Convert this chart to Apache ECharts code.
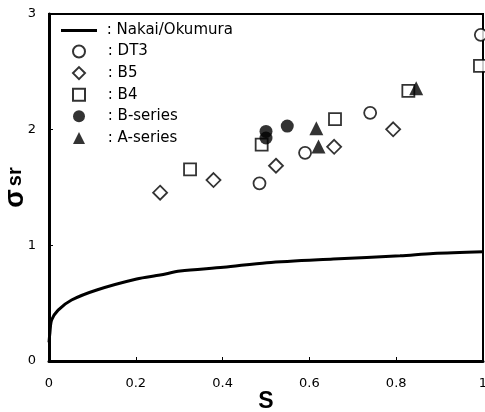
<!DOCTYPE html>
<html><head><meta charset="utf-8">
<script src="https://cdn.jsdelivr.net/npm/echarts@6/dist/echarts.min.js"></script>
<style>html,body{margin:0;padding:0;background:#fff}#c{width:485px;height:412px}</style>
</head><body><div id="c"></div>
<script>
const xTicks = [0, 0.2, 0.4, 0.6, 0.8, 1];
const yTicks = [0, 1, 2, 3];
const nakaiS = [0, 0.002, 0.006, 0.021, 0.052, 0.11, 0.202, 0.256, 0.302, 0.402, 0.502, 0.655, 0.809, 0.885, 1.0];
const nakaiV = [0.16, 0.24, 0.354, 0.44, 0.527, 0.614, 0.709, 0.743, 0.778, 0.81, 0.85, 0.882, 0.91, 0.93, 0.945];
const dt3S = [0.485, 0.590, 0.740, 0.995];
const dt3V = [1.536, 1.80, 2.146, 2.82];
const b5S = [0.256, 0.379, 0.523, 0.657, 0.793];
const b5V = [1.455, 1.564, 1.688, 1.852, 2.003];
const b4S = [0.325, 0.490, 0.659, 0.828, 0.993];
const b4V = [1.657, 1.870, 2.092, 2.336, 2.552];
const bSerS = [0.50, 0.50, 0.549];
const bSerV = [1.985, 1.928, 2.031];
const aSerS = [0.616, 0.621, 0.846];
const aSerV = [2.012, 1.855, 2.357];

const zip = (a, b) => a.map((v, i) => [v, b[i]]);
const hollow = {color: '#fff', borderColor: '#000', borderWidth: 1.8};
const filled = {color: '#000', borderColor: '#000', borderWidth: 0};
const font = 'Liberation Sans, Arial, sans-serif';
const wide = 'DejaVu Sans, sans-serif';
const legendText = {color: '#000', fontSize: 15, lineHeight: 14, fontFamily: wide};

const chart = echarts.init(document.getElementById('c'));
chart.setOption({
  animation: false,
  backgroundColor: '#fff',
  grid: {left: 49, top: 14, right: 2, bottom: 51, show: true, borderColor: '#000', borderWidth: 2,
         containLabel: false, outerBoundsMode: 'none'},
  legend: [
    {
      orient: 'vertical', left: 61, top: 23, padding: 0, itemWidth: 36, itemHeight: 3,
      icon: 'rect', formatter: n => ' : ' + n,
      textStyle: legendText,
      data: [{name: 'Nakai/Okumura', icon: 'rect', itemStyle: {color: '#000'}}]
    },
    {
      orient: 'vertical', left: 72, top: 44, padding: 0, itemWidth: 12, itemHeight: 12, itemGap: 6.6,
      formatter: n => ' : ' + n,
      textStyle: Object.assign({padding: [0, 0, 0, 13]}, legendText),
      data: ['DT3', 'B5', 'B4', 'B-series', 'A-series']
    }
  ],
  xAxis: {
    type: 'value', min: xTicks[0], max: xTicks[xTicks.length - 1], interval: 0.2,
    name: 'S', nameLocation: 'middle', nameGap: 29, nameMoveOverlap: false,
    nameTextStyle: {color: '#000', fontSize: 23, fontWeight: 'bold', fontFamily: font},
    axisLine: {lineStyle: {color: '#000', width: 3}},
    axisTick: {inside: true, length: 4, lineStyle: {color: '#000', width: 1}},
    axisLabel: {color: '#000', fontSize: 13, margin: 16, fontFamily: wide},
    splitLine: {show: false}
  },
  yAxis: {
    type: 'value', min: yTicks[0], max: yTicks[yTicks.length - 1], interval: 1,
    name: '{a|σ}{b|sr}', nameLocation: 'middle', nameGap: 20, nameRotate: 90, nameMoveOverlap: false,
    nameTextStyle: {color: '#000', fontFamily: font,
      rich: {a: {fontSize: 27, fontWeight: 'bold', fontFamily: font, padding: [0, 3, 0, 0]},
             b: {fontSize: 20, fontWeight: 'bold', fontFamily: font}}},
    axisLine: {lineStyle: {color: '#000', width: 3}},
    axisTick: {inside: true, length: 4, lineStyle: {color: '#000', width: 1}},
    axisLabel: {color: '#000', fontSize: 13, margin: 13, fontFamily: wide},
    splitLine: {show: false}
  },
  series: [
    {name: 'Nakai/Okumura', type: 'line', data: zip(nakaiS, nakaiV), smooth: 0.3, symbol: 'none', showSymbol: false,
     lineStyle: {color: '#000', width: 3}, itemStyle: {color: '#000'}, z: 2},
    {name: 'DT3', type: 'scatter', data: zip(dt3S, dt3V), symbol: 'circle', symbolSize: 12, itemStyle: hollow, z: 3},
    {name: 'B5', type: 'scatter', data: zip(b5S, b5V), symbol: 'diamond', symbolSize: 14, itemStyle: hollow, z: 3},
    {name: 'B4', type: 'scatter', data: zip(b4S, b4V), symbol: 'rect', symbolSize: 12, itemStyle: hollow, z: 3},
    {name: 'B-series', type: 'scatter', data: zip(bSerS, bSerV), symbol: 'circle', symbolSize: 13, itemStyle: filled, z: 4},
    {name: 'A-series', type: 'scatter', data: zip(aSerS, aSerV), symbol: 'triangle', symbolSize: 14, itemStyle: filled, z: 4}
  ]
});
</script></body></html>
